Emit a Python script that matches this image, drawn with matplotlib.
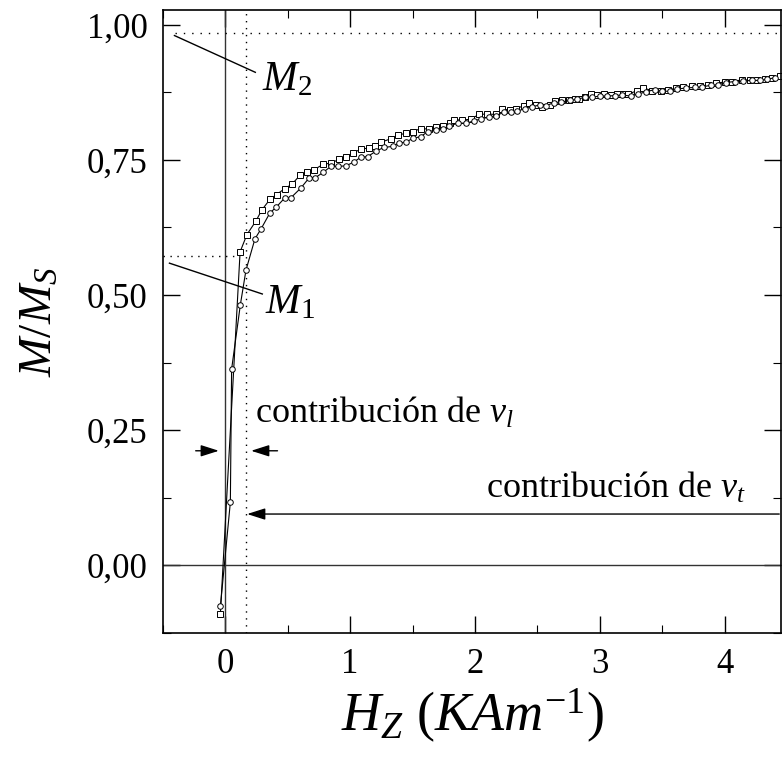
import numpy as np
import matplotlib
matplotlib.use("Agg")
import matplotlib.pyplot as plt

plt.rcParams['font.family'] = ['Liberation Serif', 'DejaVu Serif']
plt.rcParams['mathtext.fontset'] = 'custom'
plt.rcParams['mathtext.rm'] = 'Liberation Serif'
plt.rcParams['mathtext.it'] = 'Liberation Serif:italic'

# rama superior (cuadrados)
h_up = [-0.04, 0.118, 0.173, 0.245, 0.291, 0.357, 0.41, 0.477, 0.533, 0.60,
        0.655, 0.712, 0.784, 0.845, 0.912, 0.965, 1.02, 1.09, 1.15, 1.20,
        1.25, 1.325, 1.38, 1.445, 1.50, 1.565, 1.63, 1.69, 1.74, 1.80,
        1.83, 1.90, 1.965, 2.03, 2.10, 2.165, 2.22, 2.28, 2.33, 2.39,
        2.43, 2.49, 2.54, 2.60, 2.645, 2.70, 2.75, 2.80, 2.83, 2.88,
        2.93, 2.98, 3.03, 3.09, 3.14, 3.19, 3.23, 3.30, 3.35, 3.42,
        3.49, 3.55, 3.61, 3.67, 3.74, 3.80, 3.87, 3.93, 4.00, 4.06,
        4.14, 4.20, 4.26, 4.32, 4.38, 4.44]
m_up = [-0.09, 0.580, 0.612, 0.637, 0.657, 0.677, 0.686, 0.697, 0.705, 0.722,
        0.728, 0.732, 0.742, 0.744, 0.751, 0.755, 0.763, 0.770, 0.772, 0.776,
        0.783, 0.789, 0.796, 0.799, 0.802, 0.808, 0.807, 0.810, 0.812, 0.818,
        0.824, 0.824, 0.825, 0.834, 0.835, 0.834, 0.844, 0.842, 0.845, 0.850,
        0.856, 0.852, 0.847, 0.852, 0.859, 0.860, 0.861, 0.862, 0.863, 0.866,
        0.871, 0.870, 0.871, 0.870, 0.872, 0.872, 0.872, 0.878, 0.883, 0.878,
        0.877, 0.879, 0.883, 0.884, 0.886, 0.886, 0.889, 0.892, 0.894, 0.895,
        0.898, 0.898, 0.898, 0.900, 0.901, 0.905]

# rama inferior (circulos)
h_lo = [-0.04, 0.04, 0.05, 0.12, 0.165, 0.237, 0.285, 0.357, 0.405, 0.477,
        0.525, 0.605, 0.672, 0.72, 0.784, 0.845, 0.906, 0.965, 1.03, 1.085,
        1.14, 1.205, 1.27, 1.34, 1.39, 1.445, 1.505, 1.565, 1.62, 1.685,
        1.74, 1.79, 1.86, 1.93, 1.99, 2.05, 2.11, 2.17, 2.23, 2.29,
        2.34, 2.40, 2.46, 2.52, 2.57, 2.63, 2.69, 2.76, 2.82, 2.88,
        2.94, 3.00, 3.06, 3.12, 3.18, 3.25, 3.31, 3.37, 3.44, 3.50,
        3.56, 3.62, 3.69, 3.76, 3.82, 3.89, 3.95, 4.01, 4.08, 4.15,
        4.22, 4.28, 4.34, 4.40]
m_lo = [-0.076, 0.117, 0.363, 0.482, 0.546, 0.604, 0.622, 0.652, 0.662, 0.680,
        0.680, 0.698, 0.717, 0.717, 0.727, 0.738, 0.738, 0.739, 0.746, 0.755,
        0.756, 0.766, 0.773, 0.775, 0.781, 0.783, 0.790, 0.793, 0.802, 0.805,
        0.808, 0.812, 0.818, 0.818, 0.822, 0.826, 0.829, 0.832, 0.838, 0.838,
        0.840, 0.845, 0.848, 0.852, 0.850, 0.856, 0.857, 0.860, 0.862, 0.866,
        0.866, 0.868, 0.868, 0.869, 0.870, 0.868, 0.872, 0.876, 0.880, 0.877,
        0.877, 0.881, 0.883, 0.884, 0.885, 0.888, 0.889, 0.893, 0.895, 0.896,
        0.897, 0.897, 0.899, 0.902]

m1 = 0.572
m2 = 0.985
h_corte = 0.166
y_vl = 0.212
y_vt = 0.095

xticks = [0, 1, 2, 3, 4]
yticks = [0.0, 0.25, 0.5, 0.75, 1.0]
ytick_labels = ['0,00', '0,25', '0,50', '0,75', '1,00']

fig = plt.figure(figsize=(7.82, 7.68), dpi=100)
ax = fig.add_axes([0.2084, 0.1758, 0.790, 0.811])

# lineas de referencia
ax.axvline(0, color='#333333', lw=1.0)
ax.axvline(h_corte, color='k', lw=1.0, ls=(0, (1, 4)))
ax.axhline(0, color='#333333', lw=1.0)
ax.plot([-0.4, 4.45], [m2, m2], color='k', lw=1.0, ls=(0, (1, 5)))
ax.plot([-0.5, 0.07], [m1, m1], color='k', lw=1.0, ls=(0, (1, 4)))

# datos
ax.plot(h_up, m_up, '-', color='k', lw=0.8, marker='s', ms=4, mfc='white', mew=0.7)
ax.plot(h_lo, m_lo, '-', color='k', lw=0.8, marker='o', ms=4, mfc='white', mew=0.7)

# marcas M1, M2
ax.plot([-0.408, 0.24], [0.980, 0.912], color='k', lw=1.0)
ax.plot([-0.448, 0.296], [0.559, 0.502], color='k', lw=1.0)
ax.text(0.29, 0.878, r'$M_2$', fontsize=30)
ax.text(0.32, 0.466, r'$M_1$', fontsize=30)

# flechas
arr = dict(arrowstyle='-|>,head_length=1.1,head_width=0.35', color='k', lw=1.0)
ax.annotate('', xy=(-0.03, y_vl), xytext=(-0.26, y_vl), arrowprops=arr)
ax.annotate('', xy=(0.184, y_vl), xytext=(0.44, y_vl), arrowprops=arr)
ax.annotate('', xy=(0.152, y_vt), xytext=(4.46, y_vt), arrowprops=arr)
ax.text(0.24, 0.263, r'contribución de $v_l$', fontsize=26)
ax.text(2.09, 0.124, r'contribución de $v_t$', fontsize=26)

ax.set_xlim(-0.5, 4.45)
ax.set_ylim(-0.0935, 1.027)
ax.set_xticks(xticks)
ax.set_xticks(np.arange(-0.5, 4.5, 0.5), minor=True)
ax.set_yticks(yticks)
ax.set_yticklabels(ytick_labels)
ax.set_yticks(np.arange(-0.125, 1.05, 0.125), minor=True)
ax.tick_params(which='both', direction='in', top=True, right=True, labelsize=25, pad=11)
ax.tick_params(which='major', length=12, width=1.0)
ax.tick_params(which='minor', length=6, width=0.8)
for s in ax.spines.values():
    s.set_linewidth(1.2)

ax.set_xlabel(r'$H_Z\ (KAm^{-1})$', fontsize=39, labelpad=4)
ax.set_ylabel(r'$M/M_S$', fontsize=34, labelpad=18)

fig.savefig('out.png', dpi=100)
